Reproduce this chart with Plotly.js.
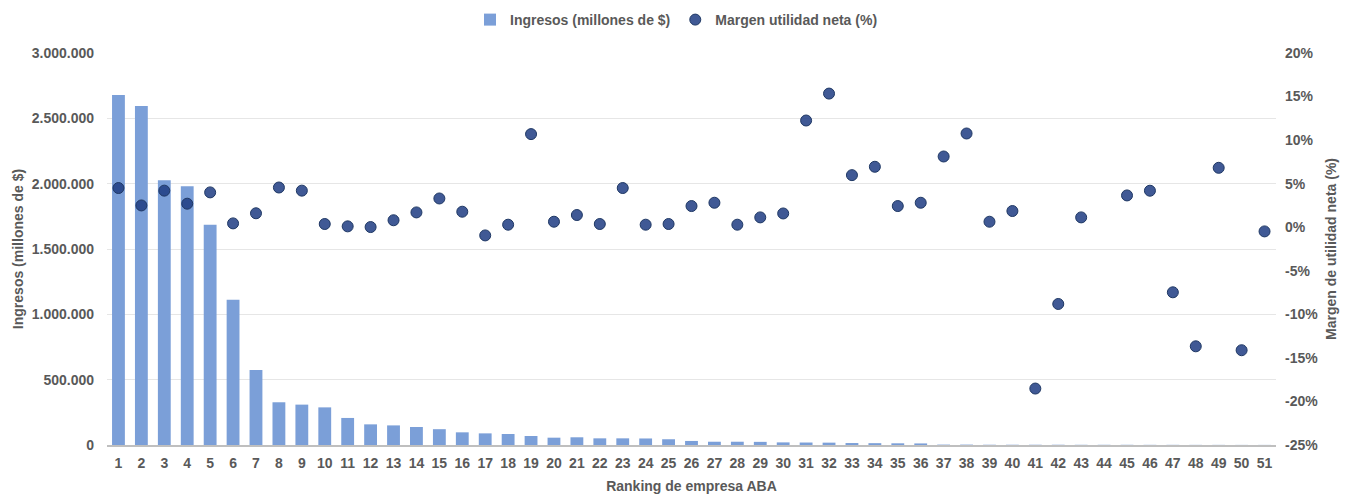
<!DOCTYPE html>
<html>
<head>
<meta charset="utf-8">
<script src="https://cdn.plot.ly/plotly-3.0.1.min.js"></script>
<style>html,body{margin:0;padding:0;background:#fff;}#chart{width:1353px;height:494px;}</style>
</head>
<body>
<div id="chart"></div>
<script>
const ranking = Array.from({length: 51}, (_, i) => i + 1);
const ingresos = [2678000, 2594000, 2026000, 1980000, 1686000, 1112000, 574000, 327000, 309000, 288000,
  207000, 158000, 150000, 138000, 121000, 97000, 89000, 84000, 69000, 56000,
  59000, 51000, 51000, 50000, 44000, 31000, 25000, 25000, 24000, 20000,
  19000, 18000, 15000, 14000, 13000, 12000, 3000, 3000, 2000, 2000,
  2000, 2000, 1500, 1500, 1500, 1200, 1200, 1000, 1000, 800, 800];
const margen = [4.5, 2.5, 4.2, 2.7, 4.0, 0.44, 1.6, 4.56, 4.2, 0.37,
  0.1, 0.02, 0.8, 1.7, 3.3, 1.78, -0.94, 0.29, 10.69, 0.63,
  1.4, 0.37, 4.5, 0.29, 0.37, 2.43, 2.81, 0.29, 1.13, 1.58,
  12.25, 15.34, 5.98, 6.94, 2.43, 2.81, 8.12, 10.76, 0.63, 1.86,
  -18.52, -8.81, 1.13, null, 3.65, 4.19, -7.47, -13.67, 6.82, -14.12, -0.48];
const leftTicks = [0, 500000, 1000000, 1500000, 2000000, 2500000, 3000000];
const rightTicks = [-25, -20, -15, -10, -5, 0, 5, 10, 15, 20];
const rightTickText = rightTicks.map(v => v + '%');

const fontFam = '"Liberation Sans", Arial, sans-serif';
const gray = '#595959';
const f = (s) => ({family: fontFam, size: s, color: gray, weight: 'bold'});

const traces = [
  {
    type: 'bar', x: ranking, y: ingresos, name: 'Ingresos (millones de $)',
    marker: {color: '#7B9FD8'}, width: 0.56, yaxis: 'y'
  },
  {
    type: 'scatter', mode: 'markers', x: ranking, y: margen, name: 'Margen utilidad neta (%)',
    yaxis: 'y2',
    marker: {size: 11, color: 'rgba(30,60,130,0.85)', line: {color: '#1F3864', width: 1}}
  }
];

const layout = {
  width: 1353, height: 494,
  margin: {l: 107, r: 77, t: 53, b: 49},
  paper_bgcolor: '#fff', plot_bgcolor: '#fff',
  separators: ',.',
  font: f(14),
  showlegend: true,
  legend: {
    orientation: 'h', x: 0.5, xanchor: 'center', xref: 'container',
    y: 1 - 20 / 494, yanchor: 'middle', yref: 'container',
    font: f(14), itemwidth: 30, tracegroupgap: 0
  },
  xaxis: {
    range: [0.5, 51.5], tickmode: 'array', tickvals: ranking, ticktext: ranking.map(String),
    showgrid: false, showline: true, linecolor: '#BFBFBF', linewidth: 2, ticks: '',
    tickfont: f(14), ticklabelstandoff: 4,
    title: {text: 'Ranking de empresa ABA', font: f(14), standoff: 12},
    zeroline: false, fixedrange: true
  },
  yaxis: {
    range: [0, 3000000], tickmode: 'array', tickvals: leftTicks, tickformat: ',d',
    showgrid: true, gridcolor: '#E6E6E6', gridwidth: 1, zeroline: false, showline: false,
    ticks: '', tickfont: f(14), ticklabelstandoff: 12,
    title: {text: 'Ingresos (millones de $)', font: f(14), standoff: 4},
    fixedrange: true
  },
  yaxis2: {
    range: [-25, 20], overlaying: 'y', side: 'right', tickmode: 'array', tickvals: rightTicks,
    ticktext: rightTickText, showgrid: false, zeroline: false, showline: false, ticks: '',
    tickfont: f(14), ticklabelstandoff: 8,
    title: {text: 'Margen de utilidad neta (%)', font: f(14), standoff: 8},
    fixedrange: true
  },
  bargap: 0.44
};

Plotly.newPlot('chart', traces, layout, {displayModeBar: false, staticPlot: true});
</script>
</body>
</html>
